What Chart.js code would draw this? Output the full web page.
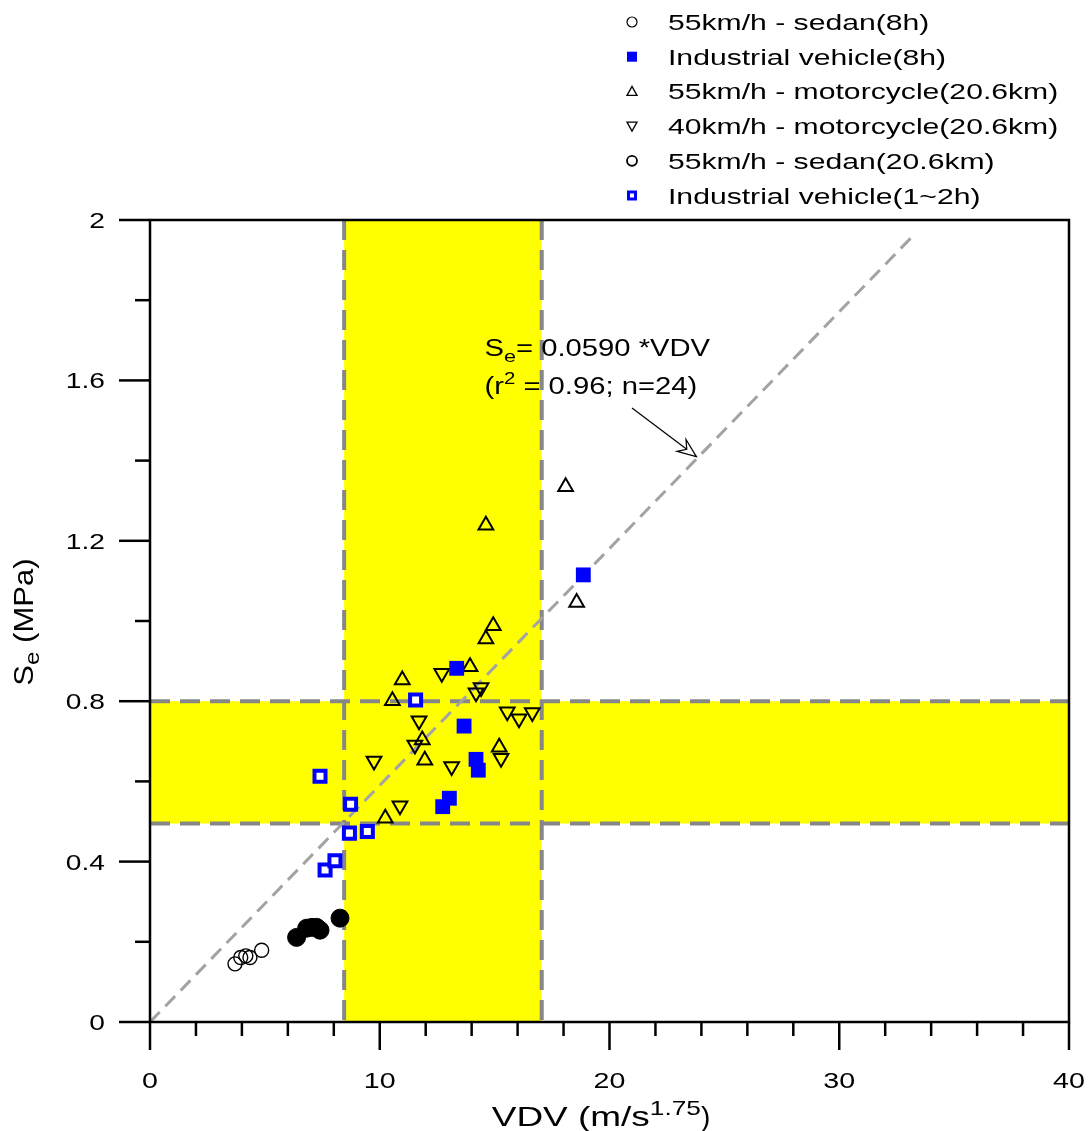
<!DOCTYPE html>
<html>
<head>
<meta charset="utf-8">
<script src="https://cdn.jsdelivr.net/npm/chart.js@4.4.1/dist/chart.umd.min.js"></script>
<style>
    body { margin: 0; background: #fff; }
    #wrap { width: 1091px; height: 1131px; position: relative; }
</style>
</head>
<body>
<div id="wrap"><canvas id="seChart"></canvas></div>
<script>
// ---- data ----
const sedan8hX = [3.70, 3.95, 4.17, 4.35, 4.86];
const sedan8hY = [0.145, 0.161, 0.165, 0.161, 0.179];

const sedan206X = [6.38, 6.82, 7.05, 7.25, 7.40, 8.27];
const sedan206Y = [0.211, 0.234, 0.236, 0.236, 0.229, 0.259];

const industrial8hX = [13.35, 13.67, 14.19, 14.29, 13.03, 12.74, 18.86];
const industrial8hY = [0.882, 0.738, 0.655, 0.628, 0.558, 0.537, 1.115];

const moto55X = [18.09, 14.62, 18.57, 14.94, 14.62, 13.93, 10.98, 10.55, 11.85, 11.96, 15.20, 10.24];
const moto55Y = [1.335, 1.239, 1.046, 0.988, 0.955, 0.886, 0.853, 0.801, 0.703, 0.653, 0.685, 0.508];

const moto40X = [12.70, 14.41, 14.19, 11.71, 15.55, 16.06, 16.64, 11.53, 9.75, 13.13, 15.28, 10.88];
const moto40Y = [0.870, 0.834, 0.821, 0.751, 0.774, 0.756, 0.772, 0.691, 0.651, 0.637, 0.658, 0.539];

const industrial12hX = [7.40, 8.73, 8.68, 9.46, 7.62, 8.05, 11.56];
const industrial12hY = [0.613, 0.543, 0.471, 0.475, 0.379, 0.402, 0.803];

// regression line Se = 0.0590*VDV, end points as drawn
const fitX = [0, 33.2];
const fitY = [0, 1.96];

// caution zones (as drawn)
const vdvBand = [8.45, 17.05];
const seBand = [0.495, 0.8];

const xTicks = [0, 10, 20, 30, 40];
const yTicks = [0, 0.4, 0.8, 1.2, 1.6, 2];

const legendLabels = [
    '55km/h - sedan(8h)',
    'Industrial vehicle(8h)',
    '55km/h - motorcycle(20.6km)',
    '40km/h - motorcycle(20.6km)',
    '55km/h - sedan(20.6km)',
    'Industrial vehicle(1~2h)'
];

function toPoints(xs, ys) {
    return xs.map((x, i) => ({ x: x, y: ys[i] }));
}

const FONT = '"Liberation Sans", Arial, sans-serif';

// text drawn a bit wider than normal, like the original figure
function wideText(ctx, text, x, y, size, sx, align) {
    ctx.save();
    ctx.font = size + 'px ' + FONT;
    ctx.translate(x, y);
    ctx.scale(sx, 1);
    ctx.textAlign = align || 'left';
    ctx.fillText(text, 0, 0);
    const w = ctx.measureText(text).width * sx;
    ctx.restore();
    return w;
}

function textWidth(ctx, text, size, sx) {
    ctx.save();
    ctx.font = size + 'px ' + FONT;
    const w = ctx.measureText(text).width * sx;
    ctx.restore();
    return w;
}

const zonesPlugin = {
    id: 'zones',
    beforeDatasetsDraw(chart) {
        const ctx = chart.ctx;
        const a = chart.chartArea;
        const xs = chart.scales.x;
        const ys = chart.scales.y;
        const x1 = xs.getPixelForValue(vdvBand[0]);
        const x2 = xs.getPixelForValue(vdvBand[1]);
        const y1 = ys.getPixelForValue(seBand[1]);
        const y2 = ys.getPixelForValue(seBand[0]);

        ctx.save();
        ctx.fillStyle = '#ffff00';
        ctx.fillRect(x1, a.top, x2 - x1, a.bottom - a.top);
        ctx.fillRect(a.left, y1, a.right - a.left, y2 - y1);

        ctx.strokeStyle = '#878787';
        ctx.lineWidth = 4;
        ctx.setLineDash([20, 10]);
        [y1, y2].forEach(y => {
            ctx.beginPath();
            ctx.moveTo(a.left, y);
            ctx.lineTo(a.right, y);
            ctx.stroke();
        });
        [x1, x2].forEach(x => {
            ctx.beginPath();
            ctx.moveTo(x, a.top);
            ctx.lineTo(x, a.bottom);
            ctx.stroke();
        });
        ctx.restore();
    }
};

const framePlugin = {
    id: 'frame',
    afterDraw(chart) {
        const ctx = chart.ctx;
        const a = chart.chartArea;
        const xs = chart.scales.x;
        const ys = chart.scales.y;

        ctx.save();
        ctx.strokeStyle = '#000';
        ctx.lineWidth = 2.5;
        ctx.setLineDash([]);
        ctx.strokeRect(a.left, a.top, a.right - a.left, a.bottom - a.top);

        // x ticks: major every 10, minor every 2
        for (let i = 0; i <= 20; i++) {
            const px = xs.getPixelForValue(i * 2);
            const len = i % 5 === 0 ? 28 : 14;
            ctx.beginPath();
            ctx.moveTo(px, a.bottom);
            ctx.lineTo(px, a.bottom + len);
            ctx.stroke();
        }
        // y ticks: major every 0.4, minor every 0.2
        for (let i = 0; i <= 10; i++) {
            const py = ys.getPixelForValue(i * 0.2);
            const len = i % 2 === 0 ? 31 : 15;
            ctx.beginPath();
            ctx.moveTo(a.left - len, py);
            ctx.lineTo(a.left, py);
            ctx.stroke();
        }

        ctx.fillStyle = '#000';
        ctx.textBaseline = 'alphabetic';
        xTicks.forEach(v => {
            wideText(ctx, String(v), xs.getPixelForValue(v), a.bottom + 66, 22, 1.3, 'center');
        });
        yTicks.forEach(v => {
            wideText(ctx, String(v), a.left - 45, ys.getPixelForValue(v) + 8, 22, 1.28, 'right');
        });

        // x title: VDV (m/s^1.75)
        const tMain = 'VDV (m/s';
        const wMain = textWidth(ctx, tMain, 28, 1.32);
        const wSup = textWidth(ctx, '1.75', 21, 1.25);
        const wEnd = textWidth(ctx, ')', 28, 1.0);
        let tx = 601 - (wMain + wSup + wEnd) / 2;
        const tb = 1126;
        tx += wideText(ctx, tMain, tx, tb, 28, 1.32);
        tx += wideText(ctx, '1.75', tx, tb - 11, 21, 1.25);
        wideText(ctx, ')', tx, tb, 28, 1.0);

        // y title: Se (MPa), rotated
        ctx.save();
        ctx.translate(33, 622);
        ctx.rotate(-Math.PI / 2);
        const w1 = textWidth(ctx, 'S', 27, 1.15);
        const w2 = textWidth(ctx, 'e', 21, 1.15);
        const w3 = textWidth(ctx, ' (MPa)', 27, 1.15);
        let ty = -(w1 + w2 + w3) / 2;
        ty += wideText(ctx, 'S', ty, 0, 27, 1.15);
        ty += wideText(ctx, 'e', ty, 6, 21, 1.15);
        wideText(ctx, ' (MPa)', ty, 0, 27, 1.15);
        ctx.restore();

        // regression annotation
        const ax = xs.getPixelForValue(14.56);
        const ay = ys.getPixelForValue(1.66);
        let cx = ax;
        cx += wideText(ctx, 'S', cx, ay, 23, 1.27);
        cx += wideText(ctx, 'e', cx, ay + 6, 17, 1.27);
        wideText(ctx, '= 0.0590 *VDV', cx, ay, 23, 1.27);

        const by = ys.getPixelForValue(1.565);
        cx = ax;
        cx += wideText(ctx, '(r', cx, by, 23, 1.27);
        cx += wideText(ctx, '2', cx, by - 10, 16, 1.27);
        wideText(ctx, ' = 0.96; n=24)', cx, by, 23, 1.27);

        // arrow to the fit line
        const sx0 = xs.getPixelForValue(20.98), sy0 = ys.getPixelForValue(1.531);
        const ex = xs.getPixelForValue(23.78), ey = ys.getPixelForValue(1.41);
        ctx.lineWidth = 1.2;
        ctx.beginPath();
        ctx.moveTo(sx0, sy0);
        ctx.lineTo(ex, ey);
        ctx.stroke();
        const ang = Math.atan2(ey - sy0, ex - sx0);
        const hl = 20, hw = 0.38;
        const lx = ex - hl * Math.cos(ang - hw), lyy = ey - hl * Math.sin(ang - hw);
        const rx = ex - hl * Math.cos(ang + hw), ry = ey - hl * Math.sin(ang + hw);
        const nx = ex - hl * 0.6 * Math.cos(ang), ny = ey - hl * 0.6 * Math.sin(ang);
        ctx.fillStyle = '#fff';
        ctx.beginPath();
        ctx.moveTo(ex, ey);
        ctx.lineTo(lx, lyy);
        ctx.lineTo(nx, ny);
        ctx.lineTo(rx, ry);
        ctx.closePath();
        ctx.fill();
        ctx.stroke();

        // legend
        const lgX = 632, txtX = 668;
        legendLabels.forEach((label, i) => {
            const my = 22 + i * 34.7;
            ctx.save();
            ctx.strokeStyle = '#000';
            ctx.lineWidth = 1.3;
            if (i === 0 || i === 4) {
                ctx.lineWidth = i === 0 ? 1.2 : 1.8;
                ctx.beginPath();
                ctx.arc(lgX, my, 5, 0, Math.PI * 2);
                ctx.stroke();
            } else if (i === 1) {
                ctx.fillStyle = '#0000ff';
                ctx.fillRect(lgX - 5, my - 5, 10, 10);
            } else if (i === 2) {
                ctx.beginPath();
                ctx.moveTo(lgX, my - 5);
                ctx.lineTo(lgX + 5, my + 4);
                ctx.lineTo(lgX - 5, my + 4);
                ctx.closePath();
                ctx.stroke();
            } else if (i === 3) {
                ctx.beginPath();
                ctx.moveTo(lgX, my + 5);
                ctx.lineTo(lgX + 5, my - 4);
                ctx.lineTo(lgX - 5, my - 4);
                ctx.closePath();
                ctx.stroke();
            } else {
                ctx.fillStyle = '#0000ff';
                ctx.fillRect(lgX - 5, my - 5, 10, 10);
                ctx.fillStyle = '#fff';
                ctx.fillRect(lgX - 2, my - 2, 4, 4);
            }
            ctx.restore();
            ctx.fillStyle = '#000';
            wideText(ctx, label, txtX, my + 8, 22, 1.37);
        });
        ctx.restore();
    }
};

const ctx = document.getElementById('seChart').getContext('2d');
const seChart = new Chart(ctx, {
    type: 'scatter',
    data: {
        datasets: [
            {
                label: legendLabels[0],
                data: toPoints(sedan8hX, sedan8hY),
                pointStyle: 'circle',
                pointRadius: 7,
                backgroundColor: 'rgba(0,0,0,0)',
                borderColor: '#000',
                borderWidth: 1.4
            },
            {
                label: legendLabels[1],
                data: toPoints(industrial8hX, industrial8hY),
                pointStyle: 'rect',
                pointRadius: 10.5,
                backgroundColor: '#0000ff',
                borderColor: '#0000ff',
                borderWidth: 0
            },
            {
                label: legendLabels[2],
                data: toPoints(moto55X, moto55Y),
                pointStyle: 'triangle',
                pointRadius: 8.5,
                backgroundColor: 'rgba(0,0,0,0)',
                borderColor: '#000',
                borderWidth: 2
            },
            {
                label: legendLabels[3],
                data: toPoints(moto40X, moto40Y),
                pointStyle: 'triangle',
                rotation: 180,
                pointRadius: 8.5,
                backgroundColor: 'rgba(0,0,0,0)',
                borderColor: '#000',
                borderWidth: 2
            },
            {
                label: legendLabels[4],
                data: toPoints(sedan206X, sedan206Y),
                pointStyle: 'circle',
                pointRadius: 9,
                backgroundColor: '#000',
                borderColor: '#000',
                borderWidth: 1
            },
            {
                label: legendLabels[5],
                data: toPoints(industrial12hX, industrial12hY),
                pointStyle: 'rect',
                pointRadius: 7.8,
                backgroundColor: '#fff',
                borderColor: '#0000ff',
                borderWidth: 4
            },
            {
                type: 'line',
                label: 'fit',
                data: toPoints(fitX, fitY),
                borderColor: '#a3a3a3',
                borderWidth: 3,
                borderDash: [14, 8],
                pointRadius: 0,
                fill: false
            }
        ]
    },
    options: {
        responsive: true,
        maintainAspectRatio: false,
        animation: false,
        events: [],
        layout: { padding: { top: 220, right: 22, left: 0, bottom: 0 } },
        scales: {
            x: {
                type: 'linear',
                min: 0,
                max: 40,
                ticks: { display: false, stepSize: 10 },
                grid: { display: false },
                border: { display: false },
                afterFit: function (scale) { scale.height = 109; }
            },
            y: {
                type: 'linear',
                min: 0,
                max: 2,
                ticks: { display: false, stepSize: 0.4 },
                grid: { display: false },
                border: { display: false },
                afterFit: function (scale) { scale.width = 150; }
            }
        },
        plugins: {
            legend: { display: false },
            tooltip: { enabled: false }
        }
    },
    plugins: [zonesPlugin, framePlugin]
});
</script>
</body>
</html>
